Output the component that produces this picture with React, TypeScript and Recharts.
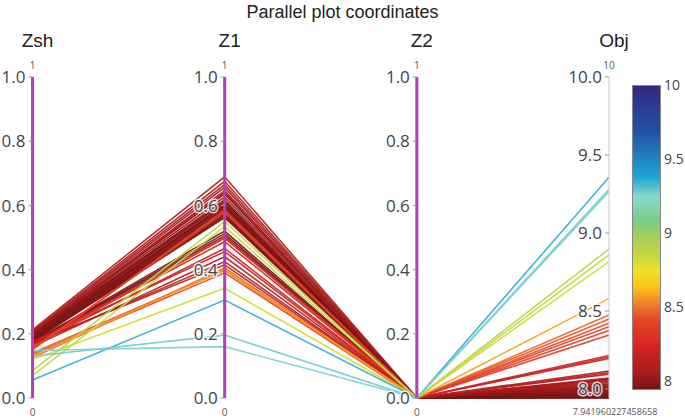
import React from 'react';
import { LineChart, Line, XAxis, YAxis, ReferenceLine, ReferenceDot } from 'recharts';

const axisNames = ['Zsh', 'Z1', 'Z2', 'Obj'];

// one entry per line (sample)
const zsh = [
  0.212, 0.208, 0.205, 0.203, 0.2, 0.198, 0.196, 0.194, 0.192, 0.19, 0.189, 0.187, 0.186, 0.184,
  0.183, 0.181, 0.18, 0.179, 0.178, 0.176, 0.175, 0.173, 0.172, 0.185, 0.195, 0.17, 0.199,
  0.17, 0.165, 0.175, 0.16, 0.168, 0.172,
  0.125, 0.14, 0.15, 0.135, 0.155, 0.16,
  0.13,
  0.12, 0.085, 0.07,
  0.056, 0.13, 0.148,
];
const z1 = [
  0.689, 0.675, 0.665, 0.656, 0.646, 0.636, 0.627, 0.618, 0.61, 0.604, 0.598, 0.594, 0.59, 0.586,
  0.582, 0.578, 0.574, 0.57, 0.566, 0.562, 0.52, 0.512, 0.505, 0.6, 0.612, 0.498, 0.64,
  0.487, 0.466, 0.456, 0.44, 0.425, 0.415,
  0.405, 0.398, 0.585, 0.39, 0.578, 0.5,
  0.4,
  0.342, 0.55, 0.534,
  0.305, 0.196, 0.16,
];
const z2 = [
  0, 0, 0, 0, 0, 0, 0, 0, 0, 0, 0, 0, 0, 0,
  0, 0, 0, 0, 0, 0, 0, 0, 0, 0, 0, 0, 0,
  0, 0, 0, 0, 0, 0,
  0, 0, 0, 0, 0, 0,
  0,
  0, 0, 0,
  0, 0, 0,
];
const obj = [
  8.07, 8.062, 8.055, 8.048, 8.04, 8.032, 8.025, 8.018, 8.012, 8.006, 8.0, 7.995, 7.99, 7.985,
  7.98, 7.975, 7.97, 7.966, 7.962, 7.958, 7.954, 7.95, 7.947, 7.944, 7.942, 8.065, 8.01,
  8.215, 8.205, 8.195, 8.115, 8.105, 8.095,
  8.474, 8.448, 8.421, 8.399, 8.374, 8.346,
  8.579,
  8.816, 8.897, 8.859,
  9.357, 9.28, 9.265,
];

const unitTicks = [0, 0.2, 0.4, 0.6, 0.8, 1.0];
const objTicks = [8.0, 8.5, 9.0, 9.5, 10.0];
const objMin = 7.941960227458658;
const objMax = 10;
const colorbarTicks = [10, 9.5, 9, 8.5, 8];

// colorscale stops: fraction of [objMin, objMax] -> rgb
const colorStops: [number, [number, number, number]][] = [
  [0, [120, 20, 20]],
  [0.055, [168, 28, 28]],
  [0.142, [215, 35, 35]],
  [0.23, [228, 70, 40]],
  [0.29, [242, 140, 38]],
  [0.335, [250, 195, 25]],
  [0.39, [240, 225, 40]],
  [0.43, [205, 218, 60]],
  [0.481, [175, 210, 78]],
  [0.557, [120, 205, 135]],
  [0.634, [140, 215, 205]],
  [0.7, [30, 165, 210]],
  [0.852, [35, 80, 165]],
  [1, [50, 40, 130]],
];

const MAGENTA = '#b43cbe';
const W = 685;
const H = 418;
const M = { top: 77, right: 76, bottom: 20, left: 32.5 };

const norm = (v: number) => (v - objMin) / (objMax - objMin);

function colorFor(v: number): string {
  const f = Math.max(0, Math.min(1, norm(v)));
  for (let i = 1; i < colorStops.length; i++) {
    const [f1, c1] = colorStops[i];
    const [f0, c0] = colorStops[i - 1];
    if (f <= f1) {
      const t = (f - f0) / (f1 - f0);
      const c = c0.map((a, k) => Math.round(a + (c1[k] - a) * t));
      return `rgb(${c[0]},${c[1]},${c[2]})`;
    }
  }
  const c = colorStops[colorStops.length - 1][1];
  return `rgb(${c[0]},${c[1]},${c[2]})`;
}

const columns = [zsh, z1, z2, obj.map(norm)];
const chartData = axisNames.map((name, idx) => {
  const row: Record<string, number | string> = { idx, name };
  columns[idx].forEach((v, i) => {
    row['l' + i] = v;
  });
  return row;
});

const tickFont = '"Open Sans", sans-serif';
const titleFont = '"Liberation Sans", Arial, sans-serif';

const tickShape = (text: string) => (props: any) => {
  const { cx, cy } = props;
  return (
    <g>
      <line x1={cx - 4} x2={cx} y1={cy} y2={cy} stroke="#999" strokeWidth={1} />
      <text
        x={cx - 7}
        y={cy}
        dy="0.36em"
        textAnchor="end"
        fontFamily={tickFont}
        fontSize={17}
        fill="#444"
        stroke="#fff"
        strokeWidth={3}
        strokeOpacity={0.8}
        paintOrder="stroke"
      >
        {text}
      </text>
    </g>
  );
};

const topShape = (title: string, rangeTop: string) => (props: any) => {
  const { cx, cy } = props;
  return (
    <g>
      <text x={cx + 5} y={cy - 37} dy="0.36em" textAnchor="middle" fontFamily={titleFont} fontSize={19} fill="#222">
        {title}
      </text>
      <text x={cx} y={cy - 12} dy="0.36em" textAnchor="middle" fontFamily={tickFont} fontSize={10} fill="#555">
        {rangeTop}
      </text>
    </g>
  );
};

const bottomShape = (rangeBottom: string, shift: number, size: number) => (props: any) => {
  const { cx, cy } = props;
  return (
    <text x={cx + shift} y={cy + 14} dy="0.36em" textAnchor="middle" fontFamily={tickFont} fontSize={size} fill="#555">
      {rangeBottom}
    </text>
  );
};

const gradient = `linear-gradient(to top, ${colorStops
  .map(([f, c]) => `rgb(${c[0]},${c[1]},${c[2]}) ${(f * 100).toFixed(1)}%`)
  .join(', ')})`;

const CB = { left: 632, top: 85, width: 29, height: 305 };
const cbY = (v: number) => CB.top + ((objMax - v) / (objMax - objMin)) * CB.height;

export default function App() {
  return (
    <div style={{ position: 'absolute', left: 0, top: 0, width: W, height: H, background: '#fff', overflow: 'hidden' }}>
      <div
        style={{
          position: 'absolute',
          left: 0,
          top: 0,
          width: W,
          textAlign: 'center',
          fontFamily: titleFont,
          fontSize: 18,
          color: '#222',
          lineHeight: '24px',
        }}
      >
        Parallel plot coordinates
      </div>
      <LineChart width={W} height={H} data={chartData} margin={M} style={{ position: 'absolute', left: 0, top: 0 }}>
        <XAxis type="number" dataKey="idx" domain={[0, 3]} hide />
        <YAxis type="number" domain={[0, 1]} hide />
        {obj.map((v, i) => (
          <Line
            key={'l' + i}
            dataKey={'l' + i}
            stroke={colorFor(v)}
            strokeWidth={1.6}
            strokeOpacity={0.92}
            dot={false}
            activeDot={false}
            isAnimationActive={false}
            type="linear"
          />
        ))}
        {axisNames.map((n, i) => (
          <ReferenceLine
            key={'ax' + i}
            x={i}
            stroke={i < 3 ? MAGENTA : '#ccc'}
            strokeWidth={i < 3 ? 3 : 1}
          />
        ))}
        {axisNames.map((n, i) =>
          (i < 3 ? unitTicks : objTicks).map((t) => (
            <ReferenceDot
              key={'t' + i + '_' + t}
              x={i}
              y={i < 3 ? t : norm(t)}
              r={1}
              shape={tickShape(t.toFixed(1))}
            />
          ))
        )}
        {axisNames.map((n, i) => (
          <ReferenceDot key={'top' + i} x={i} y={1} r={1} shape={topShape(n, i < 3 ? '1' : '10')} />
        ))}
        {axisNames.map((n, i) => (
          <ReferenceDot
            key={'bot' + i}
            x={i}
            y={0}
            r={1}
            shape={bottomShape(i < 3 ? '0' : String(objMin), i < 3 ? 0 : 6, i < 3 ? 10 : 9)}
          />
        ))}
      </LineChart>
      <div
        style={{
          position: 'absolute',
          left: CB.left,
          top: CB.top,
          width: CB.width,
          height: CB.height,
          background: gradient,
          border: '1px solid #888',
          boxSizing: 'border-box',
        }}
      />
      {colorbarTicks.map((t) => (
        <div
          key={'cb' + t}
          style={{
            position: 'absolute',
            left: 664,
            top: cbY(t) - 10,
            height: 20,
            lineHeight: '20px',
            fontFamily: tickFont,
            fontSize: 14,
            color: '#444',
            whiteSpace: 'nowrap',
          }}
        >
          {String(t)}
        </div>
      ))}
    </div>
  );
}
